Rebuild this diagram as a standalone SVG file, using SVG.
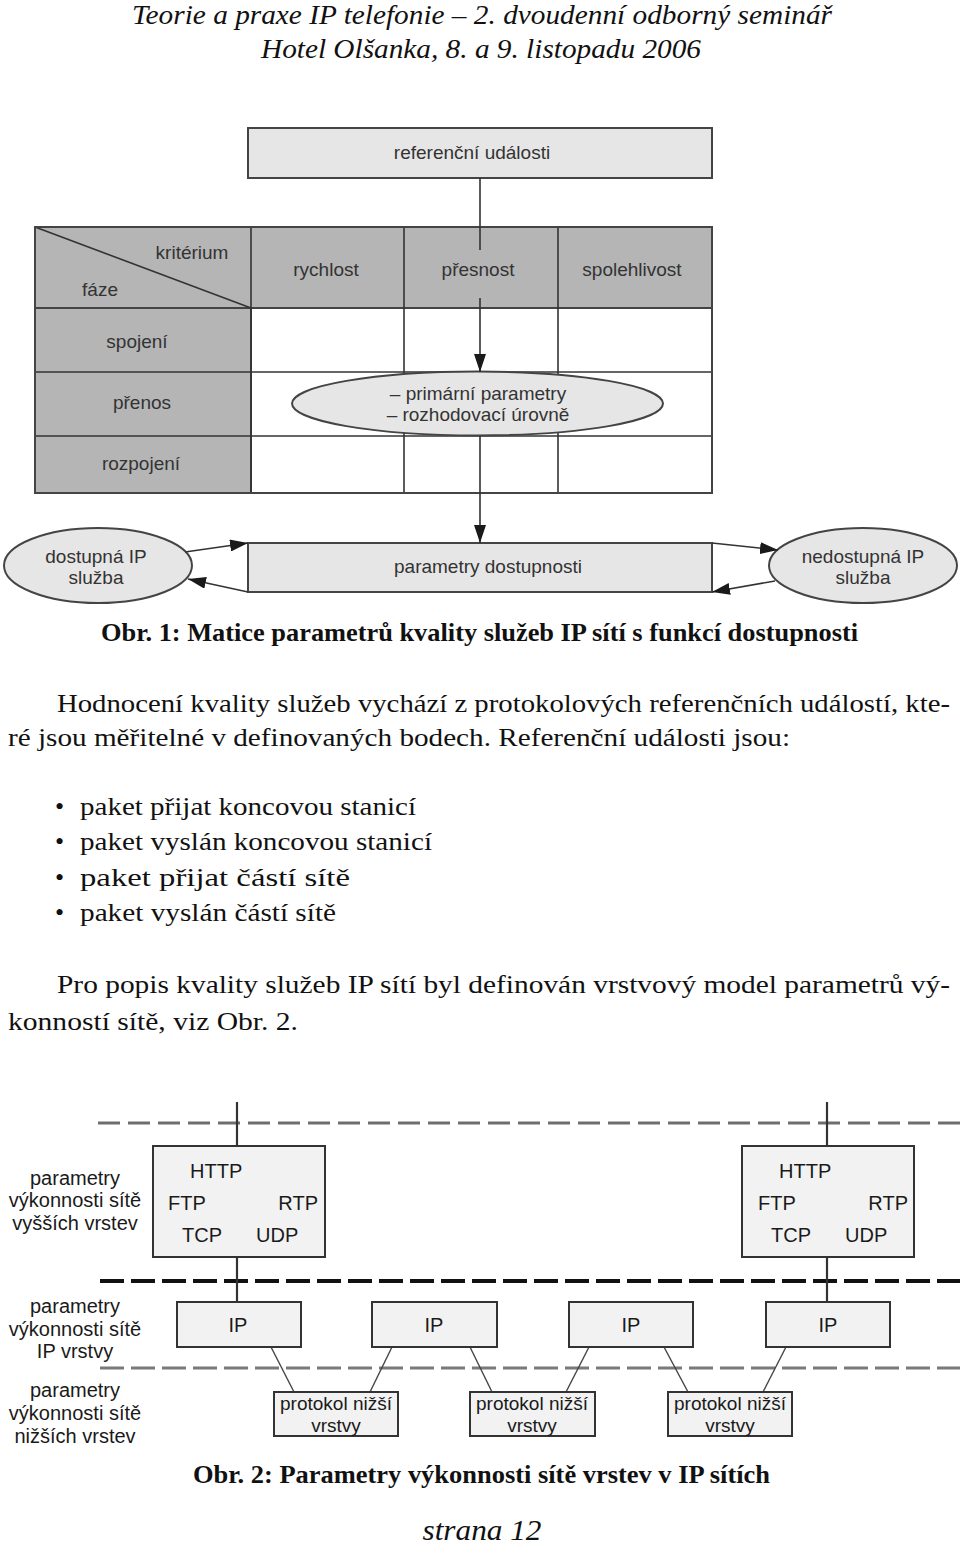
<svg xmlns="http://www.w3.org/2000/svg" width="960" height="1546" viewBox="0 0 960 1546">
<defs>
<marker id="ah" markerWidth="18" markerHeight="12" refX="18" refY="6" orient="auto" markerUnits="userSpaceOnUse"><path d="M0,0 L18,6 L0,12 z" fill="#1a1a1a"/></marker>
<style>
.ser{font-family:"Liberation Serif","Times New Roman",serif;fill:#111}
.it{font-style:italic}
.bd{font-weight:bold}
.body{font-size:26px}
.sans{font-family:"Liberation Sans",Arial,sans-serif;fill:#333;font-size:19px}
.s2{font-family:"Liberation Sans",Arial,sans-serif;fill:#1a1a1a;font-size:20px}
.pl{font-size:19px}
.lt{fill:#e6e6e6;stroke:#444;stroke-width:2}
.hd{fill:#b5b5b5;stroke:#444;stroke-width:2}
.wc{fill:#fff;stroke:#444;stroke-width:2}
.ln{stroke:#333;stroke-width:1.6;fill:none}
.bx{fill:#f2f2f2;stroke:#333;stroke-width:2}
.vl{stroke:#333;stroke-width:2.2;fill:none}
.thin{stroke:#444;stroke-width:1.4;fill:none}
.mid{text-anchor:middle}
</style>
</defs>
<rect width="960" height="1546" fill="#fff"/>

<g id="header">
<text class="ser it" x="482" y="24" font-size="28" text-anchor="middle" textLength="700" lengthAdjust="spacingAndGlyphs">Teorie a praxe IP telefonie – 2. dvoudenní odborný seminář</text>
<text class="ser it" x="481" y="58" font-size="28" text-anchor="middle" textLength="440" lengthAdjust="spacingAndGlyphs">Hotel Olšanka, 8. a 9. listopadu 2006</text>
</g>

<g id="ref-events">
<rect class="lt" x="248" y="128" width="464" height="50"/>
<text class="sans mid" x="472" y="159">referenční události</text>
</g>

<g id="matrix">
<rect class="hd" x="35" y="227" width="677" height="81"/>
<rect class="hd" x="35" y="308" width="216" height="185"/>
<rect class="wc" x="251" y="308" width="461" height="185"/>
<line class="ln" x1="35" y1="372" x2="712" y2="372"/>
<line class="ln" x1="35" y1="436" x2="712" y2="436"/>
<line class="ln" x1="251" y1="227" x2="251" y2="493"/>
<line class="ln" x1="404" y1="227" x2="404" y2="493"/>
<line class="ln" x1="558" y1="227" x2="558" y2="493"/>
<line class="ln" x1="35" y1="227" x2="251" y2="308"/>
<rect x="35" y="227" width="677" height="266" fill="none" stroke="#444" stroke-width="2"/>
<text class="sans mid" x="192" y="259">kritérium</text>
<text class="sans mid" x="100" y="296">fáze</text>
<text class="sans mid" x="326" y="276">rychlost</text>
<text class="sans mid" x="478" y="276">přesnost</text>
<text class="sans mid" x="632" y="276">spolehlivost</text>
<text class="sans mid" x="137" y="348">spojení</text>
<text class="sans mid" x="142" y="409">přenos</text>
<text class="sans mid" x="141" y="470">rozpojení</text>
</g>

<g id="primary-params">
<ellipse class="lt" cx="477.5" cy="403.5" rx="185.5" ry="32"/>
<text class="sans mid" x="478" y="400">– primární parametry</text>
<text class="sans mid" x="478" y="421">– rozhodovací úrovně</text>
</g>

<g id="availability-params">
<rect class="lt" x="248" y="543" width="464" height="49"/>
<text class="sans mid" x="488" y="573">parametry dostupnosti</text>
</g>

<g id="available">
<ellipse class="lt" cx="98" cy="565.5" rx="94" ry="37.5"/>
<text class="sans mid" x="96" y="563">dostupná IP</text>
<text class="sans mid" x="96" y="584">služba</text>
</g>

<g id="unavailable">
<ellipse class="lt" cx="863" cy="565.5" rx="94" ry="37.5"/>
<text class="sans mid" x="863" y="563">nedostupná IP</text>
<text class="sans mid" x="863" y="584">služba</text>
</g>

<g id="fig1-connectors">
<line class="ln" x1="480" y1="178" x2="480" y2="250"/>
<line class="ln" x1="480" y1="298" x2="480" y2="372" marker-end="url(#ah)"/>
<line class="ln" x1="480" y1="435.5" x2="480" y2="543" marker-end="url(#ah)"/>
<line class="ln" x1="185" y1="552" x2="248" y2="543" marker-end="url(#ah)"/>
<line class="ln" x1="248" y1="592" x2="188" y2="579" marker-end="url(#ah)"/>
<line class="ln" x1="712" y1="543" x2="778" y2="550" marker-end="url(#ah)"/>
<line class="ln" x1="775" y1="581" x2="712" y2="592" marker-end="url(#ah)"/>
</g>

<g id="caption1">
<text class="ser bd" x="101" y="641" font-size="25" textLength="757" lengthAdjust="spacingAndGlyphs">Obr. 1: Matice parametrů kvality služeb IP sítí s funkcí dostupnosti</text>
</g>

<g id="body-text">
<text class="ser body" x="57" y="712" textLength="893" lengthAdjust="spacingAndGlyphs">Hodnocení kvality služeb vychází z protokolových referenčních událostí, kte-</text>
<text class="ser body" x="8" y="746" textLength="782" lengthAdjust="spacingAndGlyphs">ré jsou měřitelné v definovaných bodech. Referenční události jsou:</text>
<text class="ser body" x="55" y="815">•</text>
<text class="ser body" x="80" y="815" textLength="336" lengthAdjust="spacingAndGlyphs">paket přijat koncovou stanicí</text>
<text class="ser body" x="55" y="850">•</text>
<text class="ser body" x="80" y="850" textLength="352" lengthAdjust="spacingAndGlyphs">paket vyslán koncovou stanicí</text>
<text class="ser body" x="55" y="886">•</text>
<text class="ser body" x="80" y="886" textLength="270" lengthAdjust="spacingAndGlyphs">paket přijat částí sítě</text>
<text class="ser body" x="55" y="921">•</text>
<text class="ser body" x="80" y="921" textLength="256" lengthAdjust="spacingAndGlyphs">paket vyslán částí sítě</text>
<text class="ser body" x="57" y="993" textLength="893" lengthAdjust="spacingAndGlyphs">Pro popis kvality služeb IP sítí byl definován vrstvový model parametrů vý-</text>
<text class="ser body" x="8" y="1030" textLength="290" lengthAdjust="spacingAndGlyphs">konností sítě, viz Obr. 2.</text>
</g>

<g id="fig2-layers">
<line x1="98" y1="1123" x2="960" y2="1123" stroke="#6e6e6e" stroke-width="3" stroke-dasharray="22,8"/>
<line x1="100" y1="1281" x2="960" y2="1281" stroke="#111" stroke-width="4" stroke-dasharray="24,7"/>
<line x1="100" y1="1368" x2="960" y2="1368" stroke="#7a7a7a" stroke-width="3" stroke-dasharray="24,7"/>
</g>

<g id="fig2-connectors">
<line class="vl" x1="237" y1="1102" x2="237" y2="1146"/>
<line class="vl" x1="237" y1="1257" x2="237" y2="1302"/>
<line class="vl" x1="827" y1="1102" x2="827" y2="1146"/>
<line class="vl" x1="827" y1="1257" x2="827" y2="1302"/>
<line class="thin" x1="271" y1="1347" x2="294" y2="1392"/>
<line class="thin" x1="392" y1="1347" x2="370" y2="1392"/>
<line class="thin" x1="470" y1="1347" x2="492" y2="1392"/>
<line class="thin" x1="589" y1="1347" x2="566" y2="1392"/>
<line class="thin" x1="664" y1="1347" x2="688" y2="1392"/>
<line class="thin" x1="786" y1="1347" x2="763" y2="1392"/>
</g>

<g id="label-upper">
<text class="s2 mid" x="75" y="1185">parametry</text>
<text class="s2 mid" x="75" y="1207">výkonnosti sítě</text>
<text class="s2 mid" x="75" y="1230">vyšších vrstev</text>
</g>
<g id="label-ip">
<text class="s2 mid" x="75" y="1313">parametry</text>
<text class="s2 mid" x="75" y="1336">výkonnosti sítě</text>
<text class="s2 mid" x="75" y="1358">IP vrstvy</text>
</g>
<g id="label-lower">
<text class="s2 mid" x="75" y="1397">parametry</text>
<text class="s2 mid" x="75" y="1420">výkonnosti sítě</text>
<text class="s2 mid" x="75" y="1443">nižších vrstev</text>
</g>

<g id="host-left">
<rect class="bx" x="153" y="1146" width="172" height="111"/>
<text class="s2" x="190" y="1178">HTTP</text>
<text class="s2" x="168" y="1210">FTP</text>
<text class="s2" x="318" y="1210" text-anchor="end">RTP</text>
<text class="s2" x="182" y="1242">TCP</text>
<text class="s2" x="256" y="1242">UDP</text>
</g>
<g id="host-right">
<rect class="bx" x="742" y="1146" width="172" height="111"/>
<text class="s2" x="779" y="1178">HTTP</text>
<text class="s2" x="758" y="1210">FTP</text>
<text class="s2" x="908" y="1210" text-anchor="end">RTP</text>
<text class="s2" x="771" y="1242">TCP</text>
<text class="s2" x="845" y="1242">UDP</text>
</g>

<g id="ip1"><rect class="bx" x="177" y="1302" width="124" height="45"/><text class="s2 mid" x="238" y="1332">IP</text></g>
<g id="ip2"><rect class="bx" x="372" y="1302" width="125" height="45"/><text class="s2 mid" x="434" y="1332">IP</text></g>
<g id="ip3"><rect class="bx" x="569" y="1302" width="124" height="45"/><text class="s2 mid" x="631" y="1332">IP</text></g>
<g id="ip4"><rect class="bx" x="766" y="1302" width="124" height="45"/><text class="s2 mid" x="828" y="1332">IP</text></g>

<g id="lower1"><rect class="bx" x="274" y="1392" width="124" height="44"/><text class="s2 pl mid" x="336" y="1410" textLength="112" lengthAdjust="spacingAndGlyphs">protokol nižší</text><text class="s2 pl mid" x="336" y="1432">vrstvy</text></g>
<g id="lower2"><rect class="bx" x="470" y="1392" width="125" height="44"/><text class="s2 pl mid" x="532" y="1410" textLength="112" lengthAdjust="spacingAndGlyphs">protokol nižší</text><text class="s2 pl mid" x="532" y="1432">vrstvy</text></g>
<g id="lower3"><rect class="bx" x="668" y="1392" width="124" height="44"/><text class="s2 pl mid" x="730" y="1410" textLength="112" lengthAdjust="spacingAndGlyphs">protokol nižší</text><text class="s2 pl mid" x="730" y="1432">vrstvy</text></g>

<g id="caption2">
<text class="ser bd" x="193" y="1483" font-size="25" textLength="577" lengthAdjust="spacingAndGlyphs">Obr. 2: Parametry výkonnosti sítě vrstev v IP sítích</text>
</g>
<g id="footer">
<text class="ser it" x="482" y="1540" font-size="29" text-anchor="middle" textLength="119" lengthAdjust="spacingAndGlyphs">strana 12</text>
</g>
</svg>
